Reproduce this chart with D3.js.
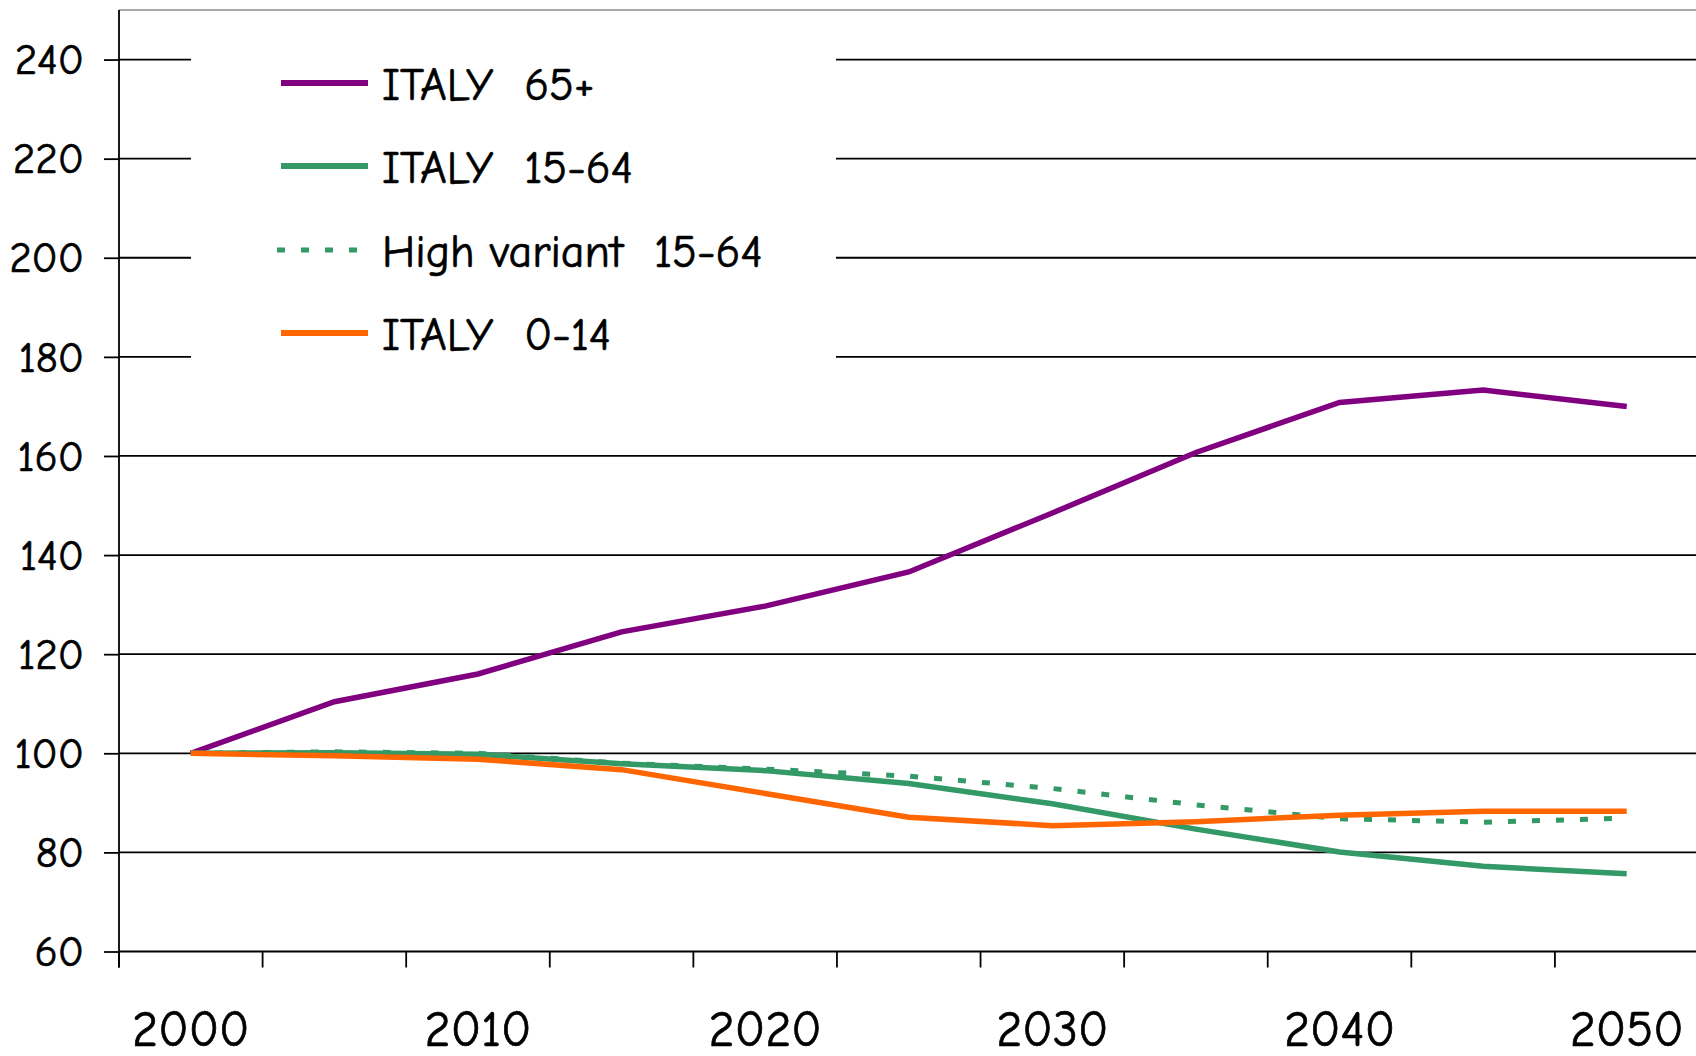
<!DOCTYPE html>
<html>
<head>
<meta charset="utf-8">
<script src="https://cdn.jsdelivr.net/npm/d3@7"></script>
<style>
  body { margin: 0; background: #fff; }
  svg text { font-family: "Comic Sans MS", "Comic Neue", "Noto Sans", sans-serif; fill: #000; stroke: #000; stroke-width: 0.7px; }
</style>
</head>
<body>
<script>
var years = [2000, 2005, 2010, 2015, 2020, 2025, 2030, 2035, 2040, 2045, 2050];
var italy65 = [100, 110.4, 116, 124.5, 129.7, 136.6, 148.5, 160.7, 170.8, 173.3, 170];
var italy1564 = [100, 100.1, 99.8, 97.9, 96.5, 93.9, 89.8, 84.7, 80.1, 77.2, 75.7];
var high1564 = [100, 100.3, 100, 98.0, 96.8, 95.4, 92.9, 89.6, 86.8, 86.1, 86.9];
var italy014 = [100, 99.5, 98.8, 96.7, 91.9, 87.1, 85.4, 86.2, 87.5, 88.3, 88.3];
var yTicks = [60, 80, 100, 120, 140, 160, 180, 200, 220, 240];
var xLabels = [2000, 2010, 2020, 2030, 2040, 2050];

var series = [
    {name: "ITALY  65+", values: italy65, color: "#800080", dash: null},
    {name: "ITALY  15-64", values: italy1564, color: "#339966", dash: null},
    {name: "High variant  15-64", values: high1564, color: "#339966", dash: "8,16"},
    {name: "ITALY  0-14", values: italy014, color: "#FF6600", dash: null}
];

var W = 1696, H = 1056;
var plotLeft = 119, plotRight = 1698.5, plotTop = 10, plotBottom = 951.5;

var svg = d3.select("body").append("svg")
    .attr("width", W)
    .attr("height", H);

var x = d3.scaleBand().domain(years).range([plotLeft, plotRight]).padding(0);
var y = d3.scaleLinear().domain([60, 250]).range([plotBottom, plotTop]);
var cx = function(d) { return x(d) + x.bandwidth() / 2; };

// top border
svg.append("line")
    .attr("x1", plotLeft).attr("x2", W)
    .attr("y1", plotTop).attr("y2", plotTop)
    .attr("stroke", "#8c8c8c").attr("stroke-width", 1.5);

// gridlines
svg.selectAll("line.grid")
    .data(yTicks).enter()
    .append("line")
    .attr("class", "grid")
    .attr("x1", plotLeft).attr("x2", W)
    .attr("y1", function(d) { return y(d); })
    .attr("y2", function(d) { return y(d); })
    .attr("stroke", "#000").attr("stroke-width", 1.8);

// legend box hides gridlines behind it
svg.append("rect")
    .attr("x", 191).attr("y", 25)
    .attr("width", 645).attr("height", 345)
    .attr("fill", "#fff");

// y axis
var yAxis = svg.append("g")
    .attr("transform", "translate(" + plotLeft + ",0)")
    .call(d3.axisLeft(y).tickValues(yTicks).tickSizeInner(15).tickSizeOuter(0));
yAxis.select(".domain").attr("stroke", "#000").attr("stroke-width", 1.8)
    .attr("d", "M0," + plotTop + "V" + (plotBottom + 16));
yAxis.selectAll(".tick line").attr("stroke", "#000").attr("stroke-width", 1.8);
yAxis.selectAll(".tick text")
    .style("font-size", "43px")
    .attr("x", -35)
    .attr("dy", "0.33em");

// x ticks between categories
svg.selectAll("line.xtick")
    .data(years).enter()
    .append("line")
    .attr("class", "xtick")
    .attr("x1", function(d) { return x(d); })
    .attr("x2", function(d) { return x(d); })
    .attr("y1", plotBottom).attr("y2", plotBottom + 16)
    .attr("stroke", "#000").attr("stroke-width", 1.8);

svg.selectAll("text.xlab")
    .data(xLabels).enter()
    .append("text")
    .attr("class", "xlab")
    .attr("x", cx)
    .attr("y", 1046)
    .attr("text-anchor", "middle")
    .style("font-size", "50px")
    .text(function(d) { return d; });

// lines
var line = d3.line()
    .x(function(d, i) { return cx(years[i]); })
    .y(function(d) { return y(d); });

svg.selectAll("path.series")
    .data(series).enter()
    .append("path")
    .attr("class", "series")
    .attr("d", function(d) { return line(d.values); })
    .attr("fill", "none")
    .attr("stroke", function(d) { return d.color; })
    .attr("stroke-width", function(d) { return d.dash ? 5 : 5.5; })
    .attr("stroke-dasharray", function(d) { return d.dash; });

// legend
var legendY = [83, 166, 250, 333];
var leg = svg.selectAll("g.legend")
    .data(series).enter()
    .append("g")
    .attr("class", "legend")
    .attr("transform", function(d, i) { return "translate(0," + legendY[i] + ")"; });

leg.append("line")
    .attr("x1", function(d) { return d.dash ? 277 : 281; })
    .attr("x2", function(d) { return d.dash ? 362 : 368; })
    .attr("y1", 0).attr("y2", 0)
    .attr("stroke", function(d) { return d.color; })
    .attr("stroke-width", function(d) { return d.dash ? 5 : 6; })
    .attr("stroke-dasharray", function(d) { return d.dash; });

leg.append("text")
    .attr("x", 382)
    .attr("y", 0)
    .attr("dy", "0.36em")
    .style("font-size", "46px")
    .style("white-space", "pre")
    .attr("xml:space", "preserve")
    .text(function(d) { return d.name; });
</script>
</body>
</html>
